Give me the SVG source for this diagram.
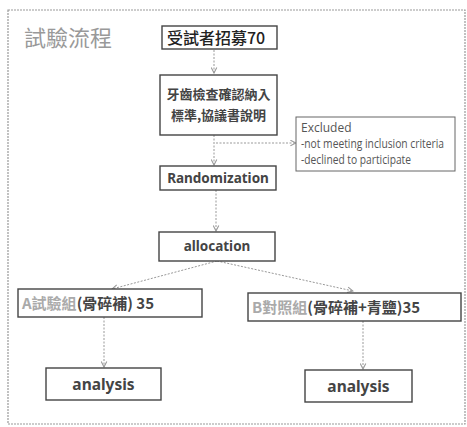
<svg xmlns="http://www.w3.org/2000/svg" width="467" height="427" viewBox="0 0 467 427">
<defs>
<style>
.box{fill:#fff;stroke:#444;stroke-width:1.4}
.con{fill:none;stroke:#999;stroke-width:1;stroke-dasharray:2 1.5}
.cjk{font-family:"Noto Sans CJK TC","Noto Sans",sans-serif}
.lat{font-family:"Noto Sans","Open Sans",sans-serif;font-weight:bold;fill:#444}
.ex{font-family:"Open Sans","Noto Sans",sans-serif;font-size:12px;fill:#555}
</style>
<marker id="ah" viewBox="0 0 10 10" refX="9" refY="5" markerWidth="7" markerHeight="7" orient="auto" markerUnits="userSpaceOnUse">
<path d="M1,1 L9,5 L1,9" fill="none" stroke="#999" stroke-width="1.5"/>
</marker>
</defs>
<rect width="467" height="427" fill="#fff"/>
<rect x="8" y="10" width="457" height="414" fill="none" stroke="#999" stroke-width="1.2" stroke-dasharray="2 1"/>
<text x="24" y="46" class="cjk" font-size="22" fill="#999">試驗流程</text>

<g id="connectors">
<line class="con" x1="214" y1="50" x2="214" y2="73" marker-end="url(#ah)"/>
<line class="con" x1="214" y1="135" x2="214" y2="165" marker-end="url(#ah)"/>
<line class="con" x1="216" y1="143" x2="296" y2="143" marker-end="url(#ah)"/>
<line class="con" x1="216" y1="190" x2="216" y2="231" marker-end="url(#ah)"/>
<line class="con" x1="217" y1="261" x2="112" y2="289" marker-end="url(#ah)"/>
<line class="con" x1="217" y1="261" x2="353" y2="291" marker-end="url(#ah)"/>
<line class="con" x1="104" y1="317" x2="104" y2="367" marker-end="url(#ah)"/>
<line class="con" x1="363" y1="321" x2="363" y2="369" marker-end="url(#ah)"/>
</g>

<g id="recruit">
<rect class="box" x="162" y="26" width="115" height="23"/>
<text x="167" y="44" class="cjk" font-size="16" font-weight="500" fill="#222">受試者招募70</text>
</g>

<g id="screening">
<rect class="box" x="160" y="75" width="117" height="60"/>
<text x="218.5" y="99" class="cjk" font-size="13" font-weight="bold" fill="#444" text-anchor="middle">牙齒檢查確認納入</text>
<text x="218.5" y="120" class="cjk" font-size="13" font-weight="bold" fill="#444" text-anchor="middle">標準,協議書說明</text>
</g>

<g id="excluded">
<rect x="296" y="117" width="159" height="54" fill="#fff" stroke="#666" stroke-width="1"/>
<text x="301" y="132" class="ex">Excluded</text>
<text x="301" y="148" class="ex" textLength="143" lengthAdjust="spacingAndGlyphs">-not meeting inclusion criteria</text>
<text x="301" y="164" class="ex" textLength="110" lengthAdjust="spacingAndGlyphs">-declined to participate</text>
</g>

<g id="randomization">
<rect class="box" x="160" y="166" width="116" height="24"/>
<text x="218" y="183" class="lat" font-size="13.5" text-anchor="middle">Randomization</text>
</g>

<g id="allocation">
<rect class="box" x="159" y="232" width="116" height="29"/>
<text x="217" y="251" class="lat" font-size="13.5" text-anchor="middle">allocation</text>
</g>

<g id="groupA">
<rect class="box" x="18" y="289" width="184" height="28"/>
<text x="22" y="309" class="cjk" font-size="15" font-weight="bold"><tspan fill="#aaa">A試驗組</tspan><tspan fill="#444">(骨碎補) 35</tspan></text>
</g>

<g id="groupB">
<rect class="box" x="248" y="293" width="213" height="28"/>
<text x="252" y="313" class="cjk" font-size="15" font-weight="bold"><tspan fill="#aaa">B對照組</tspan><tspan fill="#444">(骨碎補+青鹽)35</tspan></text>
</g>

<g id="analysisA">
<rect class="box" x="46" y="368" width="115" height="32"/>
<text x="103.5" y="390" class="lat" font-size="15.5" text-anchor="middle">analysis</text>
</g>

<g id="analysisB">
<rect class="box" x="305" y="370" width="107" height="32"/>
<text x="358.5" y="392" class="lat" font-size="15.5" text-anchor="middle">analysis</text>
</g>
</svg>
